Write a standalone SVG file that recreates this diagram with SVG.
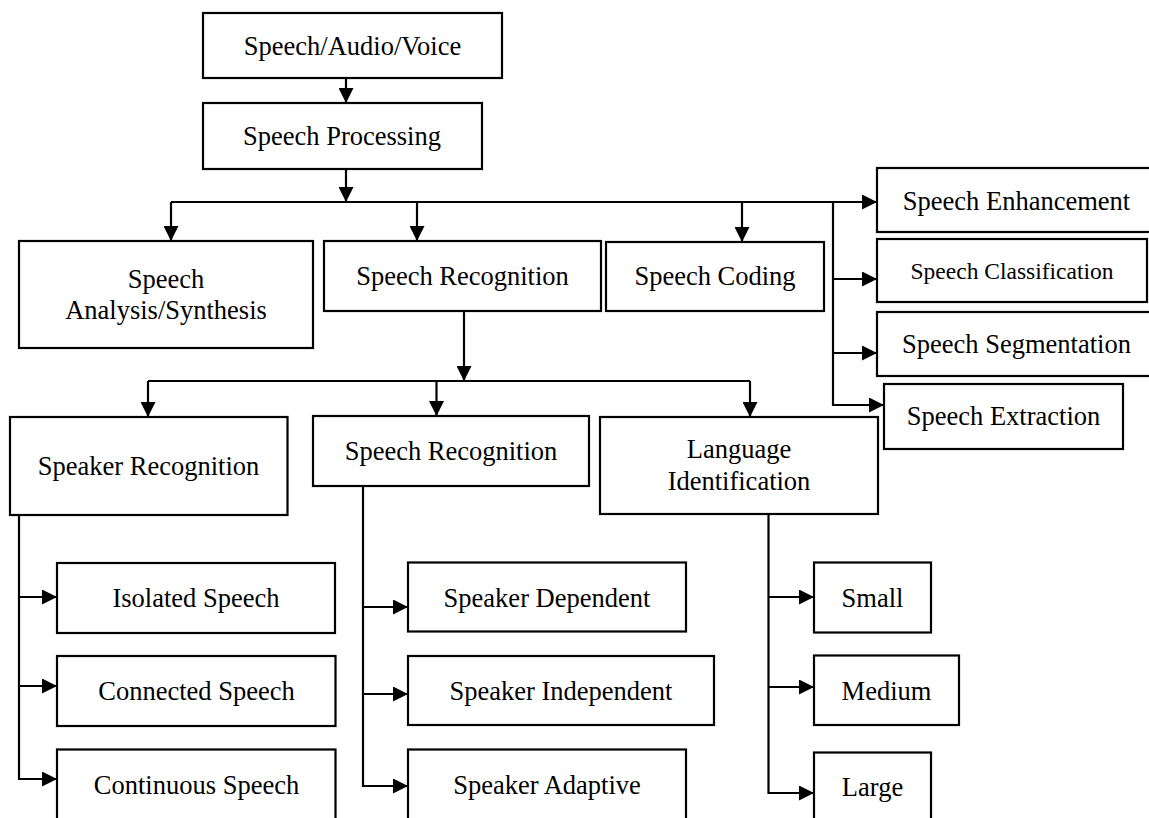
<svg xmlns="http://www.w3.org/2000/svg" width="1149" height="818" viewBox="0 0 1149 818">
<defs>
<marker id="ah" markerUnits="userSpaceOnUse" markerWidth="15" markerHeight="15" refX="15" refY="7.5" orient="auto">
<path d="M0,0 L15,7.5 L0,15 z" fill="#000"/>
</marker>
<style>
.box{fill:#fff;stroke:#000;stroke-width:2.2}
.t{font-family:"Liberation Serif","Times New Roman",serif;font-size:26.5px;fill:#000;text-anchor:middle}
.ts{font-size:23.5px}
.c{fill:none;stroke:#000;stroke-width:2.2}
.a{marker-end:url(#ah)}
</style>
</defs>
<rect width="1149" height="818" fill="#fff"/>
<g id="connectors">
<path class="c a" d="M346,78 L346,103"/>
<path class="c a" d="M346,169 L346,202"/>
<path class="c a" d="M171,202 L877,202"/>
<path class="c a" d="M171,202 L171,241"/>
<path class="c a" d="M417,202 L417,241"/>
<path class="c a" d="M742,202 L742,242"/>
<path class="c a" d="M833,202 L833,405 L884,405"/>
<path class="c a" d="M833,279 L877,279"/>
<path class="c a" d="M833,353 L877,353"/>
<path class="c a" d="M464,311 L464,381"/>
<path class="c" d="M148,381 L750,381"/>
<path class="c a" d="M148,381 L148,417"/>
<path class="c a" d="M436.5,381 L436.5,416"/>
<path class="c a" d="M750,381 L750,417"/>
<path class="c a" d="M19,515 L19,779 L57,779"/>
<path class="c a" d="M19,597 L57,597"/>
<path class="c a" d="M19,686 L57,686"/>
<path class="c a" d="M363,486 L363,786 L408,786"/>
<path class="c a" d="M363,607 L408,607"/>
<path class="c a" d="M363,694 L408,694"/>
<path class="c a" d="M768.5,514 L768.5,793 L814,793"/>
<path class="c a" d="M768.5,597 L814,597"/>
<path class="c a" d="M768.5,687 L814,687"/>
</g>
<g id="n-source"><rect class="box" x="203" y="13" width="299" height="65"/><text class="t" x="352.5" y="55">Speech/Audio/Voice</text></g>
<g id="n-processing"><rect class="box" x="203" y="103" width="279" height="66"/><text class="t" x="342" y="145">Speech Processing</text></g>
<g id="n-analysis"><rect class="box" x="19" y="241" width="294" height="107"/><text class="t" x="166" y="288">Speech</text><text class="t" x="166" y="319">Analysis/Synthesis</text></g>
<g id="n-recognition"><rect class="box" x="324" y="241" width="277" height="70"/><text class="t" x="462.5" y="284.5">Speech Recognition</text></g>
<g id="n-coding"><rect class="box" x="606" y="242" width="218" height="69"/><text class="t" x="715" y="285">Speech Coding</text></g>
<g id="n-enhancement"><rect class="box" x="877" y="168" width="279" height="64"/><text class="t" x="1016.5" y="210">Speech Enhancement</text></g>
<g id="n-classification"><rect class="box" x="877" y="239" width="270" height="63"/><text class="t ts" x="1012" y="279">Speech Classification</text></g>
<g id="n-segmentation"><rect class="box" x="877" y="312" width="279" height="64"/><text class="t" x="1016.5" y="353">Speech Segmentation</text></g>
<g id="n-extraction"><rect class="box" x="884" y="384" width="239" height="65"/><text class="t" x="1003.5" y="425">Speech Extraction</text></g>
<g id="n-speaker-recognition"><rect class="box" x="10" y="417" width="277.5" height="98"/><text class="t" x="148.5" y="475">Speaker Recognition</text></g>
<g id="n-speech-recognition2"><rect class="box" x="313" y="416" width="276" height="70"/><text class="t" x="451" y="460">Speech Recognition</text></g>
<g id="n-language"><rect class="box" x="600" y="417" width="278" height="97"/><text class="t" x="739" y="458">Language</text><text class="t" x="739" y="490">Identification</text></g>
<g id="n-isolated"><rect class="box" x="57" y="563" width="278" height="70"/><text class="t" x="196" y="607">Isolated Speech</text></g>
<g id="n-connected"><rect class="box" x="57" y="656" width="278.5" height="70"/><text class="t" x="196.5" y="700">Connected Speech</text></g>
<g id="n-continuous"><rect class="box" x="57" y="749.5" width="278.5" height="90"/><text class="t" x="196.5" y="793.5">Continuous Speech</text></g>
<g id="n-dependent"><rect class="box" x="408" y="562.5" width="278" height="69"/><text class="t" x="547" y="607">Speaker Dependent</text></g>
<g id="n-independent"><rect class="box" x="408" y="656" width="306" height="69"/><text class="t" x="561" y="700">Speaker Independent</text></g>
<g id="n-adaptive"><rect class="box" x="408" y="749.5" width="278" height="90"/><text class="t" x="547" y="793.5">Speaker Adaptive</text></g>
<g id="n-small"><rect class="box" x="814" y="562.5" width="117" height="70"/><text class="t" x="872.5" y="607">Small</text></g>
<g id="n-medium"><rect class="box" x="814" y="655.5" width="145" height="69.5"/><text class="t" x="886.5" y="700">Medium</text></g>
<g id="n-large"><rect class="box" x="814" y="752.5" width="117" height="90"/><text class="t" x="872.5" y="796">Large</text></g>
</svg>
